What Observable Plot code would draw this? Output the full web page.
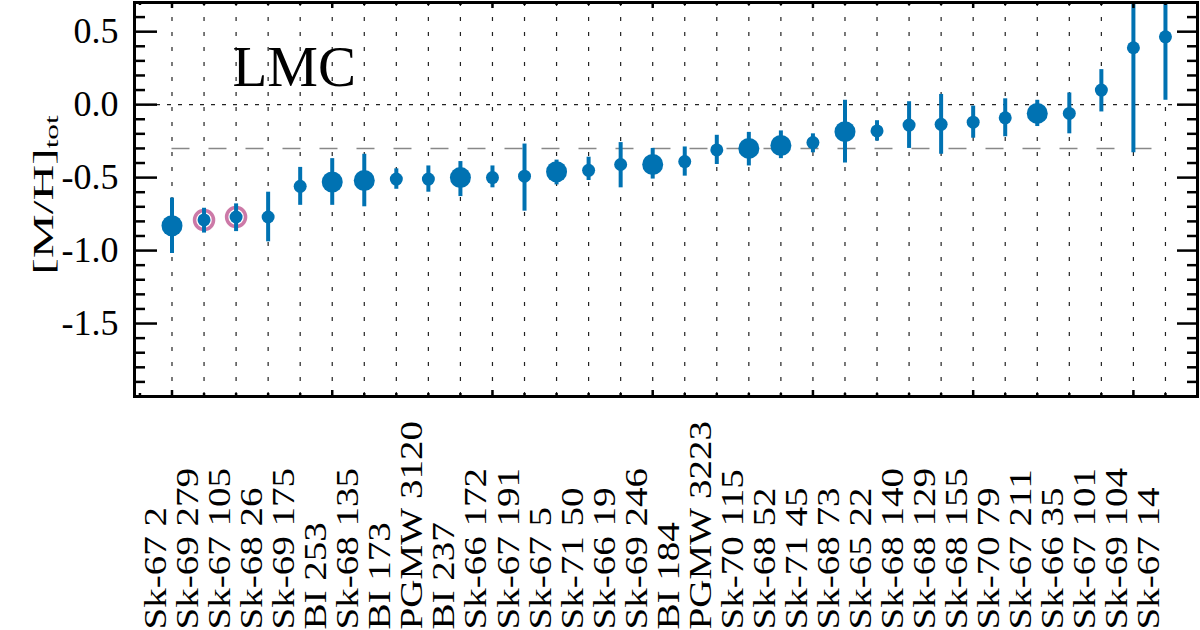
<!DOCTYPE html>
<html>
<head>
<meta charset="utf-8">
<script src="https://cdn.jsdelivr.net/npm/d3@7"></script>
<script src="https://cdn.jsdelivr.net/npm/@observablehq/plot@0.6"></script>
<style>
  html, body { margin: 0; padding: 0; background: #fff; }
  #chart { width: 1200px; height: 630px; overflow: hidden; }
  #chart svg text { font-family: 'Liberation Serif', 'Times New Roman', serif; }
</style>
</head>
<body>
<div id="chart"></div>
<script>
// ---- data ----
const stars = ["Sk-67 2","Sk-69 279","Sk-67 105","Sk-68 26","Sk-69 175","BI 253","Sk-68 135","BI 173",
  "PGMW 3120","BI 237","Sk-66 172","Sk-67 191","Sk-67 5","Sk-71 50","Sk-66 19","Sk-69 246","BI 184",
  "PGMW 3223","Sk-70 115","Sk-68 52","Sk-71 45","Sk-68 73","Sk-65 22","Sk-68 140","Sk-68 129",
  "Sk-68 155","Sk-70 79","Sk-67 211","Sk-66 35","Sk-67 101","Sk-69 104","Sk-67 14"];
const metal = [-0.83,-0.79,-0.77,-0.77,-0.56,-0.53,-0.52,-0.51,-0.51,-0.50,-0.50,-0.49,-0.46,-0.45,-0.41,-0.41,
  -0.39,-0.31,-0.30,-0.28,-0.26,-0.185,-0.18,-0.14,-0.135,-0.12,-0.09,-0.06,-0.06,0.10,0.39,0.465];
const errLow = [-1.02,-0.88,-0.87,-0.94,-0.69,-0.69,-0.70,-0.58,-0.60,-0.63,-0.57,-0.73,-0.55,-0.52,-0.57,-0.51,
  -0.49,-0.41,-0.42,-0.37,-0.33,-0.40,-0.25,-0.30,-0.34,-0.23,-0.22,-0.15,-0.20,-0.05,-0.33,0.03];
const errHigh = [-0.64,-0.71,-0.68,-0.60,-0.43,-0.37,-0.34,-0.44,-0.42,-0.39,-0.42,-0.27,-0.38,-0.36,-0.26,-0.30,
  -0.29,-0.21,-0.19,-0.18,-0.20,0.03,-0.11,0.02,0.07,-0.01,0.04,0.03,0.08,0.24,1.11,0.90];
const markerSize = ["big","small","small","small","small","big","big","small","small","big","small","small",
  "big","small","small","big","small","small","big","big","small","big","small","small","small","small",
  "small","big","small","small","small","small"];
const ringed = ["Sk-69 279","Sk-67 105"];
const referenceLevel = -0.3;
const panelLabel = "LMC";
const yMajorTicks = [-1.5,-1.0,-0.5,0.0,0.5];
const yMinorTicks = [-1.9,-1.8,-1.7,-1.6,-1.4,-1.3,-1.2,-1.1,-0.9,-0.8,-0.7,-0.6,-0.4,-0.3,-0.2,-0.1,0.1,0.2,0.3,0.4,0.6];
const xMajorTicks = [0,5,10,15,20,25,30];
const xMinorTicks = [-1,1,2,3,4,6,7,8,9,11,12,13,14,16,17,18,19,21,22,23,24,26,27,28,29,31];

// ---- layout ----
const W = 1200, H = 630;
const mL = 134, mR = 3, mT = 2, mB = 234;
const frameW = W - mL - mR, frameH = H - mT - mB;
const blue = "#0072b2", pink = "#cc79a7";
const serif = "'Liberation Serif', 'Times New Roman', serif";

const data = stars.map((name, i) => ({
  i, name, v: metal[i], lo: errLow[i], hi: errHigh[i], size: markerSize[i], ring: ringed.includes(name)
}));

const tickStyle = {stroke: "black", strokeWidth: 2.5};

const svg = Plot.plot({
  width: W, height: H,
  marginLeft: mL, marginRight: mR, marginTop: mT, marginBottom: mB,
  style: {fontFamily: serif, background: "white", color: "black"},
  x: {domain: [-1.17, 32.0], axis: null},
  y: {domain: [-2.0, 0.7], axis: null},
  marks: [
    // vertical dotted grid at each star
    Plot.ruleX(data, {x: "i", stroke: "#222", strokeWidth: 1.2, strokeDasharray: "4,11"}),
    // dotted zero line
    Plot.ruleY([0], {stroke: "#222", strokeWidth: 1.2, strokeDasharray: "4,7"}),
    // grey dashed reference level
    Plot.ruleY([referenceLevel], {x1: 0, x2: stars.length - 1, stroke: "#888", strokeWidth: 1.5, strokeDasharray: "18,19"}),
    // pink rings
    Plot.dot(data.filter(d => d.ring), {x: "i", y: "v", r: 9.5, fill: "none", stroke: pink, strokeWidth: 3.5}),
    // error bars
    Plot.ruleX(data, {x: "i", y1: "lo", y2: "hi", stroke: blue, strokeWidth: 4, clip: true}),
    // markers
    Plot.dot(data.filter(d => d.size === "big"), {x: "i", y: "v", r: 10.5, fill: blue}),
    Plot.dot(data.filter(d => d.size === "small"), {x: "i", y: "v", r: 6.5, fill: blue}),
    // bottom / top ticks (inward)
    Plot.ruleX(xMajorTicks, {x: d => d, insetTop: frameH - 6, ...tickStyle}),
    Plot.ruleX(xMinorTicks, {x: d => d, insetTop: frameH - 3, ...tickStyle}),
    Plot.ruleX(xMajorTicks, {x: d => d, insetBottom: frameH - 6, ...tickStyle}),
    Plot.ruleX(xMinorTicks, {x: d => d, insetBottom: frameH - 3, ...tickStyle}),
    // left / right ticks (inward)
    Plot.ruleY(yMajorTicks, {y: d => d, insetRight: frameW - 23, ...tickStyle}),
    Plot.ruleY(yMinorTicks, {y: d => d, insetRight: frameW - 11, ...tickStyle}),
    Plot.ruleY(yMajorTicks, {y: d => d, insetLeft: frameW - 20, ...tickStyle}),
    Plot.ruleY(yMinorTicks, {y: d => d, insetLeft: frameW - 10, ...tickStyle}),
    Plot.frame({stroke: "black", strokeWidth: 3}),
    // y tick labels
    Plot.axisY({ticks: yMajorTicks, tickSize: 0, tickPadding: 16, fontSize: 36, fontFamily: serif,
      tickFormat: d => d.toFixed(1), label: null}),
    // star names
    Plot.text(data, {x: "i", text: "name", frameAnchor: "bottom", rotate: -90,
      textAnchor: "start", lineAnchor: "bottom", dx: -6, dy: 233, fontSize: 31, fontFamily: serif,
      fill: "black"}),
    // panel label
    Plot.text([panelLabel], {text: d => d, frameAnchor: "top-left", textAnchor: "start",
      lineAnchor: "bottom", dx: 98, dy: 83, fontSize: 57, fontFamily: serif, fill: "black"})
  ]
});

// stretch rotated star names along their direction (as in the reference)
const starSet = new Set(stars);
d3.select(svg).selectAll("text")
  .filter(function () { return starSet.has(this.textContent); })
  .attr("transform", function () { return (this.getAttribute("transform") || "") + " scale(1.26,1)"; });

// y-axis title with subscript
const yt = d3.select(svg).append("text")
  .attr("transform", "translate(53,195) rotate(-90) scale(1.65,1)")
  .attr("text-anchor", "middle")
  .attr("font-family", serif)
  .attr("font-size", 30)
  .attr("fill", "black");
yt.append("tspan").text("[M/H]");
yt.append("tspan").attr("font-size", 19).attr("dy", 5).text("tot");

document.getElementById("chart").appendChild(svg);
</script>
</body>
</html>
